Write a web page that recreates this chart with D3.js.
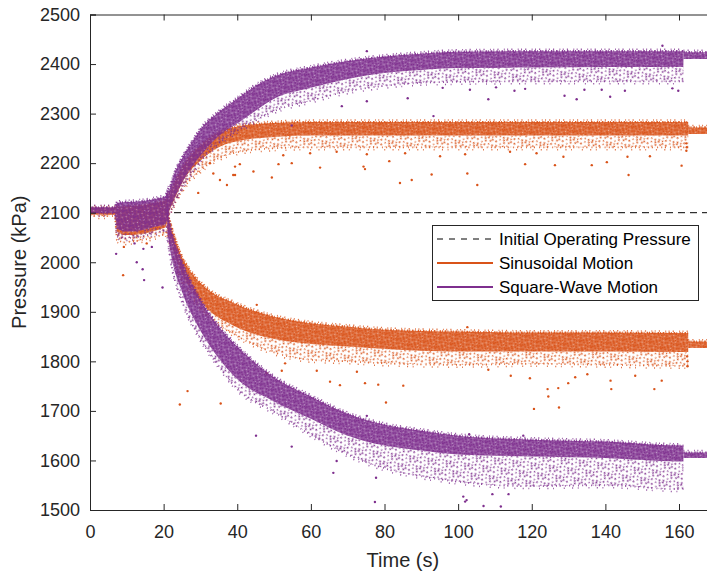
<!DOCTYPE html>
<html>
<head>
<meta charset="utf-8">
<script src="https://cdn.jsdelivr.net/npm/d3@7"></script>
<style>
  body { margin: 0; background: #fff; }
  svg { display: block; }
  text { font-family: "Liberation Sans", Arial, Helvetica, sans-serif; }
</style>
</head>
<body>
<svg id="chart" width="707" height="575"></svg>
<script>
// ---- axis ticks ----
const xTicks = [0, 20, 40, 60, 80, 100, 120, 140, 160];
const yTicks = [1500, 1600, 1700, 1800, 1900, 2000, 2100, 2200, 2300, 2400, 2500];
const initialPressure = 2100;

// ---- settling period before the motion starts (s, kPa) ----
const startT      = [0, 6.8, 7.3, 9, 12, 15, 18, 20.5, 21.3];
const sinStartHi  = [2110, 2110, 2112, 2112, 2114, 2116, 2120, 2124, 2140];
const sinStartLo  = [2096, 2096, 2062, 2055, 2055, 2058, 2064, 2070, 2088];
const sinStartFr  = [2093, 2093, 2045, 2040, 2042, 2046, 2052, 2056, 2070];
const sqStartHi   = [2111, 2111, 2120, 2121, 2122, 2124, 2128, 2132, 2150];
const sqStartLo   = [2099, 2099, 2068, 2062, 2062, 2066, 2072, 2076, 2092];
const sqStartFr   = [2098, 2098, 2052, 2048, 2050, 2054, 2060, 2064, 2078];

// ---- square-wave motion: upper chamber (dense band hi/lo, sparse edge fr) ----
const sqUpT  = [21, 23, 25, 27.5, 30, 35, 40, 45, 50, 60, 70, 80, 90, 100, 120, 140, 160, 161.2];
const sqUpHi = [2130, 2180, 2210, 2240, 2268, 2303, 2330, 2356, 2375, 2393, 2406, 2415, 2421, 2425, 2426, 2426, 2426, 2426];
const sqUpLo = [2095, 2130, 2160, 2190, 2215, 2255, 2280, 2306, 2330, 2352, 2370, 2382, 2388, 2392, 2393, 2394, 2394, 2394];
const sqUpFr = [2090, 2120, 2150, 2178, 2203, 2240, 2265, 2286, 2305, 2326, 2345, 2356, 2362, 2364, 2365, 2365, 2365, 2365];

// ---- square-wave motion: lower chamber ----
const sqDnT  = [21, 22, 25, 30, 35, 40, 50, 60, 70, 80, 90, 100, 120, 140, 160, 161.2];
const sqDnHi = [2100, 2065, 2000, 1924, 1870, 1830, 1768, 1729, 1694, 1672, 1660, 1650, 1642, 1638, 1630, 1630];
const sqDnLo = [2060, 2015, 1940, 1862, 1806, 1764, 1719, 1684, 1650, 1630, 1620, 1612, 1608, 1605, 1598, 1598];
const sqDnFr = [2050, 2000, 1922, 1845, 1790, 1744, 1698, 1652, 1612, 1584, 1568, 1557, 1548, 1550, 1542, 1542];

// ---- sinusoidal motion: upper chamber ----
const sinUpT  = [21, 23, 25, 30, 35, 40, 50, 60, 80, 100, 120, 140, 160, 162.5];
const sinUpHi = [2120, 2160, 2190, 2235, 2262, 2274, 2281, 2283, 2283, 2283, 2283, 2283, 2283, 2283];
const sinUpLo = [2095, 2128, 2160, 2205, 2232, 2244, 2253, 2256, 2256, 2256, 2256, 2256, 2256, 2256];
const sinUpFr = [2090, 2118, 2145, 2185, 2210, 2222, 2230, 2232, 2232, 2232, 2232, 2232, 2232, 2232];

// ---- sinusoidal motion: lower chamber ----
const sinDnT  = [21, 23, 25, 27, 32, 39, 50, 60, 70, 80, 100, 120, 140, 160, 162.5];
const sinDnHi = [2100, 2050, 2010, 1985, 1945, 1918, 1890, 1877, 1870, 1864, 1860, 1858, 1858, 1857, 1857];
const sinDnLo = [2070, 2015, 1975, 1950, 1905, 1872, 1845, 1835, 1830, 1825, 1820, 1820, 1820, 1819, 1819];
const sinDnFr = [2060, 2000, 1960, 1935, 1890, 1855, 1818, 1803, 1800, 1796, 1793, 1795, 1793, 1791, 1791];

// ---- held pressures after the motion stops ----
const sqTailT     = [161.2, 170];
const sqTailUpHi  = [2424, 2424];
const sqTailUpLo  = [2410, 2410];
const sqTailDnHi  = [1616, 1616];
const sqTailDnLo  = [1605, 1605];
const sinTailT    = [162.5, 170];
const sinTailUpHi = [2272, 2272];
const sinTailUpLo = [2259, 2259];
const sinTailDnHi = [1840, 1840];
const sinTailDnLo = [1827, 1827];

// ---- isolated samples away from the bands (s, kPa) ----
const sinOutT = [39.4, 44.4, 49.4, 51.2, 54.8, 62.5, 74.3, 74.7, 81.3, 84.2, 87.4, 92.8, 102.5, 40.7, 52.5, 59.8, 67, 75.2, 85.6, 95.1,
  105.2, 101.9, 118.2, 126.3, 136.3, 140.4, 146.3, 146, 152.1, 160.7, 121.3, 128.6, 114.1, 29.4, 33.5, 35.3, 37.2, 38.9, 32.6, 39.4,
  162, 162.1, 162,
  65.2, 67.9, 74.7, 80.4, 85.1, 78.3, 52.1, 53, 61.6, 72.5, 48, 45.3, 24.4, 26.5, 35.5, 120.6, 127.4, 124.5, 124.3, 127.2, 114.3,
  119.5, 129.9, 131.8, 135.1, 141.4, 141.6, 148.1, 153.3, 155.3, 102.5, 108.2,
  162.3, 162.3, 162.2, 9, 9.2, 15.4];
const sinOutP = [2176, 2183, 2171, 2198, 2200, 2191, 2193, 2188, 2204, 2160, 2166, 2177, 2179, 2198, 2216, 2220, 2223, 2218, 2220, 2214,
  2156, 2218, 2198, 2196, 2196, 2202, 2176, 2213, 2214, 2195, 2220, 2213, 2223, 2140, 2179, 2166, 2156, 2176, 2200, 2193,
  2240, 2232, 2225,
  1759, 1752, 1756, 1717, 1751, 1753, 1781, 1796, 1781, 1779, 1776, 1914, 1713, 1740, 1715, 1704, 1707, 1729, 1744, 1746, 1771,
  1766, 1756, 1768, 1774, 1761, 1744, 1771, 1744, 1761, 1869, 1783,
  1800, 1790, 1810, 1974, 2031, 2038];
const sqOutT = [75.2, 68.4, 75.2, 86.3, 95.8, 54.8, 93.3, 108.2, 115.3, 118.2, 128.9, 132.2, 134.3, 139, 141.3, 145.3, 158.2, 159.8, 110.3, 103.2, 155.5,
  77.4, 45.1, 66.1, 67, 75.2, 77.7, 101.4, 101.9, 102.3, 106.9, 111.6, 109.3, 113.7, 117.7, 103, 54.8,
  7.1, 12.7, 14.3, 14.7, 19.7, 14.5, 12.1, 16.8];
const sqOutP = [2426, 2315, 2325, 2331, 2352, 2276, 2295, 2329, 2346, 2350, 2336, 2329, 2348, 2348, 2334, 2346, 2351, 2346, 2353, 2348, 2437,
  1516, 1650, 1575, 1599, 1690, 1565, 1527, 1517, 1520, 1508, 1507, 1532, 1532, 1650, 1653, 1628,
  2017, 2000, 1986, 1964, 1949, 2027, 2038, 2031];

const sinColor = "#D95319";
const sqColor  = "#7E2F8E";
const axisColor = "#262626";

// ---- layout ----
const svg = d3.select("#chart");
const plotLeft = 90, plotTop = 14.5, plotBottom = 510;
const x = d3.scaleLinear().domain([0, 170]).range([plotLeft, plotLeft + 170 * 3.6813]);
const y = d3.scaleLinear().domain([1500, 2500]).range([plotBottom, plotTop]);

const defs = svg.append("defs");
defs.append("clipPath").attr("id", "plot-clip")
  .append("rect").attr("x", plotLeft).attr("y", plotTop)
  .attr("width", 707 - plotLeft).attr("height", plotBottom - plotTop);

// marker textures: a dense tile for the core of each point cloud and a sparse one for its edge
const coreDots = [[0.6, 1.2], [3.9, 0.4], [7.1, 2.3], [10.8, 1.1], [1.9, 4.4], [5.3, 3.4], [8.6, 5.2], [11.9, 3.9],
  [0.2, 7.3], [3.1, 6.9], [6.4, 7.8], [9.7, 6.6], [2.5, 9.6], [4.7, 9.1], [8.1, 9.5], [11.3, 8.7]];
const coreSpecks = [[2.8, 2.4], [9.2, 3.1], [6.0, 5.6], [1.3, 8.3], [10.6, 9.9], [12.3, 6.0]];
const edgeDots = [[1.2, 1.5], [5.7, 0.8], [9.4, 2.9], [12.6, 1.2], [3.1, 4.8], [7.2, 5.6], [11.5, 6.1],
  [0.6, 8.4], [5, 9.3], [8.8, 10.6], [13.1, 9.6], [2.7, 11.3], [10.2, 8.2]];

function makePatterns(key, color) {
  const core = defs.append("pattern").attr("id", "core-" + key)
    .attr("patternUnits", "userSpaceOnUse").attr("width", 12.6).attr("height", 10.2)
    .attr("patternTransform", "rotate(27)");
  core.append("rect").attr("width", 12.6).attr("height", 10.2).attr("fill", color).attr("fill-opacity", 0.8);
  coreDots.forEach(([cx, cy]) => core.append("circle").attr("cx", cx).attr("cy", cy).attr("r", 1.0).attr("fill", color));
  coreSpecks.forEach(([cx, cy]) => core.append("circle").attr("cx", cx).attr("cy", cy).attr("r", 0.55)
    .attr("fill", "#fff").attr("fill-opacity", 0.5));

  const fr = defs.append("pattern").attr("id", "fr-" + key)
    .attr("patternUnits", "userSpaceOnUse").attr("width", 14).attr("height", 12)
    .attr("patternTransform", "rotate(-33)");
  edgeDots.forEach(([cx, cy], i) => fr.append("circle").attr("cx", cx).attr("cy", cy)
    .attr("r", i % 3 === 2 ? 0.8 : 1.0).attr("fill", color).attr("fill-opacity", 0.9));
}
makePatterns("sin", sinColor);
makePatterns("sq", sqColor);

const plot = svg.append("g").attr("clip-path", "url(#plot-clip)");

// reference line at the initial operating pressure
plot.append("line")
  .attr("x1", x(0)).attr("x2", x(170))
  .attr("y1", y(initialPressure)).attr("y2", y(initialPressure))
  .attr("stroke", "#000").attr("stroke-width", 1).attr("stroke-dasharray", "7 5");

function band(g, T, hi, lo, fr, key, color, curve) {
  const rows = T.map((t, i) => ({ t, hi: hi[i], lo: lo[i], fr: fr ? fr[i] : null }));
  if (fr) {
    g.append("path").datum(rows)
      .attr("d", d3.area().curve(curve).x(d => x(d.t)).y0(d => y(d.fr)).y1(d => y(d.lo)))
      .attr("fill", `url(#fr-${key})`);
  }
  g.append("path").datum(rows)
    .attr("d", d3.area().curve(curve).x(d => x(d.t)).y0(d => y(d.lo)).y1(d => y(d.hi)))
    .attr("fill", `url(#core-${key})`);
  // ragged outer edge of the dense core
  const hiLine = d3.line().curve(curve).x(d => x(d.t)).y(d => y(d.hi));
  g.append("path").datum(rows).attr("d", hiLine)
    .attr("fill", "none").attr("stroke", color).attr("stroke-width", 2.2)
    .attr("stroke-dasharray", "1.4 0.9 1 1.8 1.6 1.2 0.8 2.2").attr("stroke-opacity", 0.9);
  g.append("path").datum(rows).attr("d", hiLine).attr("transform", "translate(0,-1.9)")
    .attr("fill", "none").attr("stroke", color).attr("stroke-width", 1.5)
    .attr("stroke-dasharray", "1 3.1 1.2 5.3 0.9 2.4").attr("stroke-opacity", 0.8);
  if (fr) {
    // scattered samples along the sparse edge
    const frLine = d3.line().curve(curve).x(d => x(d.t)).y(d => y(d.fr));
    g.append("path").datum(rows).attr("d", frLine)
      .attr("fill", "none").attr("stroke", color).attr("stroke-width", 1.8)
      .attr("stroke-dasharray", "1 2.6 1.2 4.1 0.9 3.3").attr("stroke-opacity", 0.85);
    g.append("path").datum(rows).attr("d", frLine).attr("transform", "translate(0,2.4)")
      .attr("fill", "none").attr("stroke", color).attr("stroke-width", 1.5)
      .attr("stroke-dasharray", "1 7.3 1.1 4.6 0.9 9.8").attr("stroke-opacity", 0.8);
  }
}

function dots(g, T, P, color) {
  g.selectAll(null).data(T.map((t, i) => [t, P[i]])).enter().append("circle")
    .attr("cx", d => x(d[0])).attr("cy", d => y(d[1])).attr("r", 1.2)
    .attr("fill", color);
}

// sinusoidal motion (drawn first, square-wave on top)
const gSin = plot.append("g");
band(gSin, startT, sinStartHi, sinStartLo, sinStartFr, "sin", sinColor, d3.curveLinear);
band(gSin, sinUpT, sinUpHi, sinUpLo, sinUpFr, "sin", sinColor, d3.curveMonotoneX);
band(gSin, sinDnT, sinDnHi, sinDnLo, sinDnFr, "sin", sinColor, d3.curveMonotoneX);
band(gSin, sinTailT, sinTailUpHi, sinTailUpLo, null, "sin", sinColor, d3.curveLinear);
band(gSin, sinTailT, sinTailDnHi, sinTailDnLo, null, "sin", sinColor, d3.curveLinear);
dots(gSin, sinOutT, sinOutP, sinColor);

const gSq = plot.append("g");
band(gSq, startT, sqStartHi, sqStartLo, sqStartFr, "sq", sqColor, d3.curveLinear);
band(gSq, sqUpT, sqUpHi, sqUpLo, sqUpFr, "sq", sqColor, d3.curveMonotoneX);
band(gSq, sqDnT, sqDnHi, sqDnLo, sqDnFr, "sq", sqColor, d3.curveMonotoneX);
band(gSq, sqTailT, sqTailUpHi, sqTailUpLo, null, "sq", sqColor, d3.curveLinear);
band(gSq, sqTailT, sqTailDnHi, sqTailDnLo, null, "sq", sqColor, d3.curveLinear);
dots(gSq, sqOutT, sqOutP, sqColor);

// ---- axes ----
const fontTick = "18px";
const gx = svg.append("g").attr("transform", `translate(0,${plotBottom})`)
  .call(d3.axisBottom(x).tickValues(xTicks).tickSize(-6).tickPadding(15).tickFormat(d3.format("d")));
const gxTop = svg.append("g").attr("transform", `translate(0,${plotTop})`)
  .call(d3.axisTop(x).tickValues(xTicks).tickSize(-6).tickFormat(""));
const gy = svg.append("g").attr("transform", `translate(${plotLeft},0)`)
  .call(d3.axisLeft(y).tickValues(yTicks).tickSize(-6).tickPadding(10).tickFormat(d3.format("d")));

[gx, gxTop, gy].forEach(g => {
  g.select(".domain").attr("stroke", axisColor).attr("stroke-width", 1);
  g.selectAll(".tick line").attr("stroke", axisColor).attr("stroke-width", 1);
  g.selectAll(".tick text").attr("fill", axisColor).style("font-size", fontTick)
    .style("font-family", '"Liberation Sans", Arial, sans-serif');
});

// axis titles
svg.append("text").attr("x", (x.range()[0] + x.range()[1]) / 2).attr("y", 566.5)
  .attr("text-anchor", "middle").attr("fill", axisColor).style("font-size", "20px")
  .text("Time (s)");
svg.append("text")
  .attr("transform", `translate(25.5,${(plotTop + plotBottom) / 2}) rotate(-90)`)
  .attr("text-anchor", "middle").attr("fill", axisColor).style("font-size", "20px")
  .text("Pressure (kPa)");

// ---- legend ----
const legend = svg.append("g");
legend.append("rect").attr("x", 432.5).attr("y", 225.5).attr("width", 266).attr("height", 75)
  .attr("fill", "#fff").attr("stroke", axisColor).attr("stroke-width", 1);
const legendItems = [
  { label: "Initial Operating Pressure", color: "#000", dash: "6 6", width: 1 },
  { label: "Sinusoidal Motion", color: sinColor, dash: null, width: 2 },
  { label: "Square-Wave Motion", color: sqColor, dash: null, width: 2 }
];
legendItems.forEach((d, i) => {
  const cy = 239 + i * 24;
  legend.append("line").attr("x1", 437).attr("x2", 493).attr("y1", cy).attr("y2", cy)
    .attr("stroke", d.color).attr("stroke-width", d.width)
    .attr("stroke-dasharray", d.dash);
  legend.append("text").attr("x", 499).attr("y", cy).attr("dy", "0.35em")
    .attr("fill", "#000").style("font-size", "17px").text(d.label);
});
</script>
</body>
</html>
